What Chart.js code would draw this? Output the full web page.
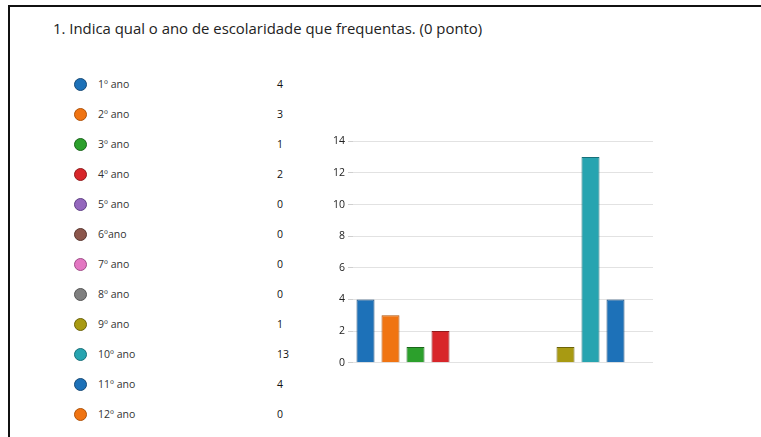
<!DOCTYPE html>
<html>
<head>
<meta charset="utf-8">
<script src="https://cdn.jsdelivr.net/npm/chart.js@4/dist/chart.umd.min.js"></script>
<style>
  html, body { margin: 0; padding: 0; background: #fff; width: 761px; height: 437px; overflow: hidden; }
  #frameTop { position: absolute; left: 8px; top: 5px; width: 753px; height: 2px; background: #111; }
  #frameLeft { position: absolute; left: 8px; top: 5px; width: 2px; height: 432px; background: #111; }
  #title { position: absolute; left: 53px; top: 18px; font-family: "Open Sans", sans-serif; font-size: 14.9px; color: #222; white-space: nowrap; }
  .row { position: absolute; left: 0; height: 14px; font-family: "Open Sans", sans-serif; font-size: 10.5px; color: #333; }
  .dot { position: absolute; left: 74px; top: 0; width: 11px; height: 11px; border-radius: 50%; border: 1px solid; }
  .lab { position: absolute; left: 98px; top: -1px; white-space: nowrap; }
  .val { position: absolute; left: 277px; top: -1px; color: #111; white-space: nowrap; }
  #chartBox { position: absolute; left: 320px; top: 132px; width: 340px; height: 240px; }
</style>
</head>
<body>
<div id="frameTop"></div>
<div id="frameLeft"></div>
<div id="title">1. Indica qual o ano de escolaridade que frequentas. (0 ponto)</div>
<div id="legend"></div>
<div id="chartBox"><canvas id="c"></canvas></div>
<script>
const categories = ["1º ano","2º ano","3º ano","4º ano","5º ano","6ºano","7º ano","8º ano","9º ano","10º ano","11º ano","12º ano"];
const counts = [4, 3, 1, 2, 0, 0, 0, 0, 1, 13, 4, 0];
const fillColors = ["#1d71b8","#f07412","#2ca02c","#d8262a","#9467bd","#8c564b","#e377c2","#7f7f7f","#a89a12","#27a4b0","#1d71b8","#f07412"];
const borderColors = ["#174a78","#b05208","#1a661a","#921a1c","#5e3f85","#5a362f","#a04c88","#555555","#6c6308","#17707a","#174a78","#b05208"];
const yTicks = [0, 2, 4, 6, 8, 10, 12, 14];

// legend (HTML text built from the arrays)
const legend = document.getElementById('legend');
categories.forEach((c, i) => {
  const row = document.createElement('div');
  row.className = 'row';
  row.style.top = (78 + i * 30) + 'px';
  row.innerHTML = '<span class="dot" style="background:' + fillColors[i] + ';border-color:' + borderColors[i] + '"></span>' +
    '<span class="lab">' + c + '</span><span class="val">' + counts[i] + '</span>';
  legend.appendChild(row);
});

new Chart(document.getElementById('c'), {
  type: 'bar',
  data: {
    labels: categories,
    datasets: [{
      data: counts,
      backgroundColor: fillColors,
      borderColor: borderColors,
      borderWidth: 1,
      categoryPercentage: 0.72,
      barPercentage: 1
    }]
  },
  options: {
    responsive: true,
    maintainAspectRatio: false,
    animation: false,
    layout: { padding: { top: 9, right: 7, bottom: 8, left: 0 } },
    plugins: { legend: { display: false }, tooltip: { enabled: false } },
    scales: {
      x: { display: false },
      y: {
        min: 0, max: 14,
        afterFit: (s) => { s.width = 33; },
        afterBuildTicks: (s) => { s.ticks = yTicks.map(v => ({ value: v })); },
        border: { display: false },
        grid: { color: '#e2e2e2', lineWidth: 1, tickLength: 5, tickColor: '#cfcfcf' },
        ticks: { color: '#222', font: { family: 'Open Sans', size: 10.5 }, padding: 3 }
      }
    }
  }
});
</script>
</body>
</html>
